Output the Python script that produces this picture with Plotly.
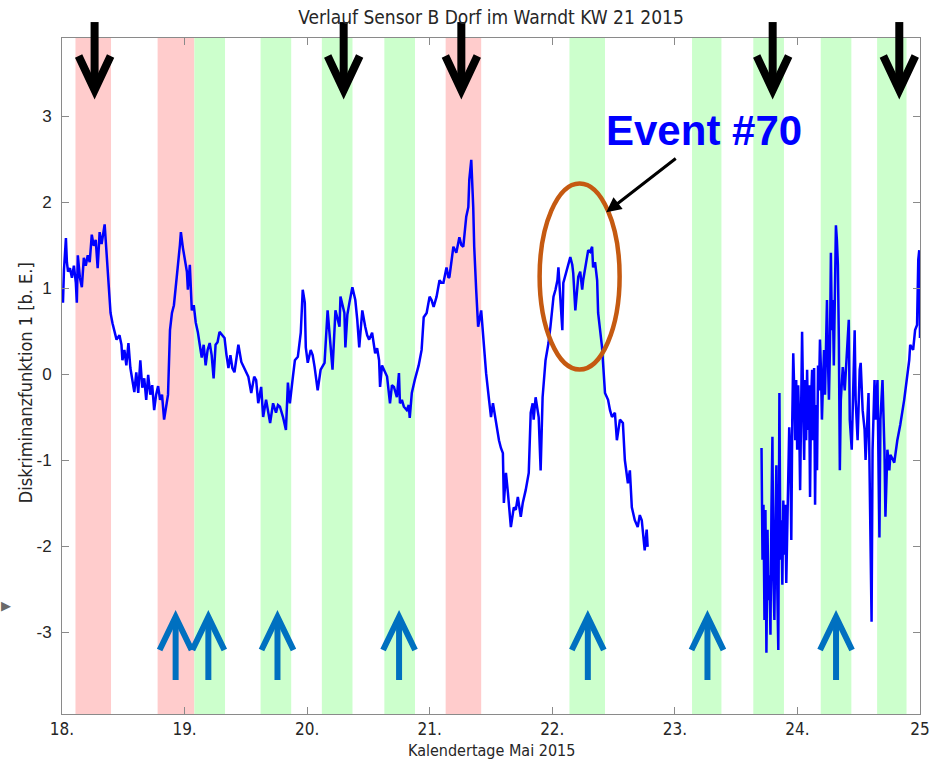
import plotly.graph_objects as go

# ---- sensor series (day of May 2015, discriminant value) ----
seg1_day = [18.000, 18.008, 18.016, 18.032, 18.040, 18.049, 18.065, 18.081, 18.097, 18.113,
            18.121, 18.129, 18.146, 18.162, 18.178, 18.194, 18.210, 18.226, 18.243, 18.259,
            18.275, 18.291, 18.307, 18.323, 18.348, 18.364, 18.380, 18.396, 18.412, 18.428,
            18.445, 18.469, 18.485, 18.493, 18.509, 18.525, 18.542, 18.558, 18.574, 18.590,
            18.606, 18.622, 18.639, 18.655, 18.671, 18.687, 18.703, 18.720, 18.736, 18.752,
            18.768, 18.784, 18.800, 18.816, 18.833, 18.849, 18.865, 18.881, 18.897, 18.913,
            18.930, 18.946, 18.962, 18.970, 18.986, 19.002, 19.019, 19.027, 19.043, 19.059,
            19.075, 19.091, 19.108, 19.124, 19.140, 19.156, 19.172, 19.188, 19.205, 19.221,
            19.237, 19.253, 19.269, 19.285, 19.310, 19.326, 19.342, 19.358, 19.374, 19.390,
            19.407, 19.423, 19.439, 19.463, 19.496, 19.520, 19.544, 19.568, 19.584, 19.601,
            19.625, 19.641, 19.665, 19.681, 19.698, 19.722, 19.746, 19.762, 19.778, 19.803,
            19.827, 19.843, 19.859, 19.884, 19.900, 19.924, 19.948, 19.964, 19.981, 19.989,
            20.005, 20.029, 20.045, 20.061, 20.086, 20.110, 20.142, 20.167, 20.183, 20.207,
            20.231, 20.247, 20.264, 20.272, 20.288, 20.304, 20.312, 20.328, 20.345, 20.369,
            20.393, 20.409, 20.425, 20.450, 20.474, 20.490, 20.506, 20.530, 20.555, 20.571,
            20.587, 20.595, 20.611, 20.627, 20.652, 20.676, 20.692, 20.708, 20.732, 20.749,
            20.757, 20.773, 20.789, 20.813, 20.829, 20.837, 20.854, 20.878, 20.894, 20.910,
            20.934, 20.951, 20.975, 20.999, 21.015, 21.032, 21.056, 21.072, 21.080, 21.096,
            21.112, 21.137, 21.153, 21.161, 21.177, 21.193, 21.217, 21.242, 21.258, 21.274,
            21.298, 21.315, 21.323, 21.339, 21.355, 21.363, 21.379, 21.395, 21.420, 21.436,
            21.460, 21.484, 21.500, 21.516, 21.541, 21.565, 21.581, 21.597, 21.605, 21.622,
            21.638, 21.662, 21.686, 21.702, 21.719, 21.743, 21.759, 21.783, 21.808, 21.824,
            21.840, 21.848, 21.864, 21.889, 21.905, 21.921, 21.945, 21.969, 21.985, 22.010,
            22.026, 22.042, 22.050, 22.066, 22.082, 22.090, 22.107, 22.123, 22.147, 22.163,
            22.171, 22.188, 22.204, 22.212, 22.228, 22.244, 22.252, 22.268, 22.293, 22.309,
            22.325, 22.333, 22.349, 22.366, 22.374, 22.390, 22.406, 22.430, 22.455, 22.471,
            22.487, 22.511, 22.527, 22.552, 22.576, 22.592, 22.617, 22.633, 22.649, 22.673,
            22.697, 22.714, 22.730, 22.754, 22.770, 22.778]
seg1_val = [0.98, 0.83, 1.21, 1.58, 1.30, 1.19, 1.23, 1.12, 1.26, 1.06,
            0.83, 1.38, 1.12, 1.01, 1.35, 1.26, 1.38, 1.30, 1.62, 1.49,
            1.56, 1.23, 1.65, 1.51, 1.74, 1.38, 1.13, 0.71, 0.59, 0.51,
            0.40, 0.45, 0.34, 0.16, 0.28, 0.10, 0.36, 0.07, -0.07, -0.21,
            0.02, -0.22, 0.16, -0.16, -0.05, -0.30, -0.01, -0.24, -0.13, -0.42,
            -0.24, -0.14, -0.30, -0.24, -0.53, -0.36, -0.24, 0.51, 0.71, 0.80,
            1.01, 1.27, 1.50, 1.65, 1.47, 1.35, 1.19, 0.98, 1.27, 0.74,
            0.80, 0.60, 0.49, 0.34, 0.19, 0.34, 0.10, 0.28, 0.36, 0.22,
            -0.05, 0.34, 0.37, 0.49, 0.44, 0.42, 0.22, 0.07, 0.22, 0.07,
            0.02, 0.19, 0.34, 0.14, 0.05, -0.03, -0.22, -0.03, -0.07, -0.34,
            -0.15, -0.50, -0.30, -0.42, -0.57, -0.34, -0.45, -0.36, -0.38, -0.50,
            -0.65, -0.10, -0.34, -0.03, 0.16, 0.20, 0.48, 0.98, 0.83, 0.31,
            0.13, 0.28, 0.22, 0.08, -0.19, 0.05, 0.13, 0.74, 0.43, 0.05,
            0.74, 0.63, 0.55, 0.90, 0.80, 0.71, 0.31, 0.69, 0.83, 1.01,
            0.86, 0.63, 0.31, 0.74, 0.55, 0.45, 0.40, 0.48, 0.24, 0.30,
            0.16, -0.15, 0.10, 0.05, -0.03, -0.34, -0.13, -0.15, -0.27, 0.01,
            -0.34, -0.30, -0.38, -0.42, -0.36, -0.51, -0.22, -0.07, 0.02, 0.10,
            0.28, 0.66, 0.71, 0.90, 0.86, 0.78, 0.90, 1.07, 1.09, 1.06,
            1.06, 1.24, 1.12, 1.13, 1.30, 1.48, 1.41, 1.59, 1.50, 1.48,
            1.83, 1.94, 2.26, 2.49, 1.94, 1.48, 0.98, 0.55, 0.74, 0.40,
            0.01, -0.30, -0.50, -0.34, -0.57, -0.77, -0.86, -0.92, -1.50, -1.15,
            -1.38, -1.78, -1.55, -1.58, -1.43, -1.66, -1.50, -1.35, -1.15, -0.45,
            -0.34, -0.53, -0.27, -0.50, -1.12, -0.27, 0.16, 0.36, 0.55, 0.90,
            0.98, 1.09, 1.24, 0.86, 0.51, 1.06, 1.15, 1.24, 1.36, 1.27,
            1.17, 0.74, 1.03, 1.13, 1.19, 0.98, 1.09, 1.24, 1.44, 1.42,
            1.48, 1.24, 1.30, 1.09, 0.71, 0.51, 0.31, -0.22, -0.30, -0.42,
            -0.50, -0.45, -0.77, -0.53, -0.57, -1.00, -1.27, -1.12, -1.55, -1.70,
            -1.78, -1.64, -1.70, -2.05, -1.81, -2.01]

seg2_day = [23.707, 23.715, 23.723, 23.731, 23.739, 23.747, 23.756, 23.764, 23.772, 23.780,
            23.788, 23.796, 23.804, 23.812, 23.820, 23.828, 23.836, 23.844, 23.853, 23.861,
            23.869, 23.877, 23.885, 23.893, 23.901, 23.909, 23.917, 23.925, 23.933, 23.942,
            23.950, 23.958, 23.966, 23.974, 23.982, 23.990, 23.998, 24.006, 24.014, 24.022,
            24.030, 24.038, 24.047, 24.055, 24.063, 24.071, 24.079, 24.087, 24.095, 24.103,
            24.111, 24.120, 24.128, 24.136, 24.144, 24.152, 24.160, 24.168, 24.176, 24.184,
            24.192, 24.200, 24.208, 24.217, 24.225, 24.233, 24.241, 24.249, 24.257, 24.265,
            24.273, 24.281, 24.289, 24.297, 24.305, 24.314, 24.322, 24.330, 24.338, 24.346,
            24.354, 24.370, 24.386, 24.394, 24.419, 24.427, 24.443, 24.467, 24.475, 24.491,
            24.508, 24.516, 24.532, 24.548, 24.556, 24.580, 24.588, 24.605, 24.613, 24.629,
            24.637, 24.653, 24.669, 24.677, 24.694, 24.710, 24.718, 24.734, 24.750, 24.758,
            24.774, 24.790, 24.815, 24.839, 24.871, 24.895, 24.912, 24.920, 24.944, 24.960,
            24.976, 24.986, 24.994, 25.000]
seg2_val = [-0.86, -2.16, -1.52, -2.86, -1.58, -3.24, -1.81, -2.63, -2.34, -3.03,
            -1.58, -0.73, -2.40, -2.86, -1.81, -1.06, -2.51, -3.21, -0.22, -2.16,
            -1.70, -2.45, -1.47, -2.10, -1.52, -2.43, -1.81, -1.23, -0.62, -0.88,
            -1.93, -0.53, 0.24, -0.19, -0.77, -0.07, -0.88, -0.13, -0.53, -1.35,
            -0.30, 0.49, -0.36, -1.00, -0.07, -0.77, 0.05, -0.65, -0.13, -1.43,
            -0.30, 0.05, -0.77, 0.07, -1.52, -0.36, -1.12, 0.10, -0.19, 0.40,
            0.05, -0.53, -0.13, 0.28, -0.24, 0.57, 0.86, 0.16, -0.30, 0.28,
            1.41, 0.51, 0.86, 0.10, 0.74, 1.73, 1.56, 1.27, 0.40, -1.12,
            -0.30, 0.08, -0.19, 0.05, 0.63, -0.53, -0.88, 0.51, -0.30, -0.77,
            0.05, 0.13, -0.42, -0.65, -1.00, -0.22, -1.23, -2.88, -0.88, -0.07,
            -0.53, -0.07, -1.90, -0.53, -0.07, -0.88, -1.66, -0.88, -1.12, -0.94,
            -0.98, -1.03, -0.77, -0.59, -0.30, -0.01, 0.16, 0.34, 0.28, 0.51,
            0.57, 1.33, 1.44, 0.42]

# ---- marked periods (start, end) in days ----
red_bands = [(18.11, 18.40), (18.78, 19.08), (21.13, 21.42)]
green_bands = [(19.08, 19.33), (19.62, 19.87), (20.12, 20.37), (20.63, 20.88),
               (22.14, 22.43), (23.14, 23.38), (23.64, 23.89), (24.19, 24.44),
               (24.65, 24.89)]

# ---- event markers ----
down_arrows = [18.266, 20.298, 21.258, 23.798, 24.831]
up_arrows = [18.927, 19.194, 19.758, 20.750, 22.290, 23.266, 24.315]

x_ticks = [18, 19, 20, 21, 22, 23, 24, 25]
x_tick_text = ["18.", "19.", "20.", "21.", "22.", "23.", "24.", "25"]
y_ticks = [-3, -2, -1, 0, 1, 2, 3]
y_tick_text = ["-3", "-2", "-1", "0", "1", "2", "3"]

event_label = "Event #70"
event_center = (22.223, 1.134)
event_text_pos = (23.24, 2.83)
event_arrow_tip = (22.44, 1.88)

NARROW = "Liberation Sans Narrow, Arial Narrow, DejaVu Sans Condensed, sans-serif"
SANS = "Liberation Sans, Arial, sans-serif"

fig = go.Figure()

fig.add_trace(go.Scatter(
    x=seg1_day + [None] + seg2_day,
    y=seg1_val + [None] + seg2_val,
    mode="lines",
    line=dict(color="#0000FF", width=2.5),
    connectgaps=False,
    hoverinfo="skip",
    showlegend=False,
))

shapes = []
for (a, b) in red_bands:
    shapes.append(dict(type="rect", xref="x", yref="paper", x0=a, x1=b, y0=0, y1=1,
                       fillcolor="#FFCCCC", line=dict(width=0), layer="below"))
for (a, b) in green_bands:
    shapes.append(dict(type="rect", xref="x", yref="paper", x0=a, x1=b, y0=0, y1=1,
                       fillcolor="#CCFFCC", line=dict(width=0), layer="below"))

# black downward arrows above the series
for d in down_arrows:
    for p in ["M0,4 L0,68", "M-16,34 L0,0 L16,34"]:
        shapes.append(dict(type="path", xref="x", yref="paper",
                           xsizemode="pixel", ysizemode="pixel",
                           xanchor=d, yanchor=0.923, path=p,
                           line=dict(color="black", width=8)))

# blue upward arrows near the bottom
for d in up_arrows:
    for p in ["M0,-4 L0,-63", "M-16,-33 L0,0 L16,-33"]:
        shapes.append(dict(type="path", xref="x", yref="paper",
                           xsizemode="pixel", ysizemode="pixel",
                           xanchor=d, yanchor=0.1435, path=p,
                           line=dict(color="#0070C0", width=6)))

# ellipse around the event
shapes.append(dict(type="circle", xref="x", yref="y",
                   xsizemode="pixel", ysizemode="pixel",
                   xanchor=event_center[0], yanchor=event_center[1],
                   x0=-40, x1=40, y0=-93, y1=93,
                   line=dict(color="#C55A11", width=4.5)))

annotations = [
    dict(text="<b>" + event_label + "</b>", x=event_text_pos[0], y=event_text_pos[1],
         xref="x", yref="y", showarrow=False,
         font=dict(family=SANS, size=42, color="#0000FF"),
         xanchor="center", yanchor="middle"),
    dict(text="", x=event_arrow_tip[0], y=event_arrow_tip[1], xref="x", yref="y",
         showarrow=True, ax=71, ay=-55, arrowhead=2, arrowsize=1, arrowwidth=3,
         arrowcolor="black"),
    dict(text="Kalendertage Mai 2015", x=0.5, y=-0.0547, xref="paper", yref="paper",
         showarrow=False, font=dict(family=NARROW, size=16, color="#262626"),
         xanchor="center", yanchor="middle"),
    dict(text="Diskriminanzfunktion 1 [b. E.]", x=-0.0426, y=0.49, xref="paper",
         yref="paper", textangle=-90, showarrow=False,
         font=dict(family=NARROW, size=18, color="#262626"),
         xanchor="center", yanchor="middle"),
    dict(text="\u25B6", x=-0.0657, y=0.161, xref="paper", yref="paper", showarrow=False,
         font=dict(family=SANS, size=13, color="#6a6a6a"), xanchor="center",
         yanchor="middle"),
]

fig.update_layout(
    width=940, height=760,
    margin=dict(l=62, r=10, t=38, b=46),
    paper_bgcolor="white", plot_bgcolor="white",
    title=dict(text="Verlauf Sensor B Dorf im Warndt KW 21 2015",
               x=0.5, xref="paper", xanchor="center",
               y=1 - 17 / 760, yref="container", yanchor="middle",
               font=dict(family=NARROW, size=19, color="#262626")),
    shapes=shapes,
    annotations=annotations,
    showlegend=False,
)

fig.update_xaxes(range=[18, 25], tickvals=x_ticks, ticktext=x_tick_text,
                 showgrid=False, zeroline=False, showline=True, mirror="ticks",
                 linecolor="#8a8a8a", linewidth=1, ticks="inside", ticklen=7,
                 tickcolor="#8a8a8a", ticklabeloverflow="allow",
                 ticklabelstandoff=0,
                 tickfont=dict(family=NARROW, size=17, color="#262626"))
fig.update_yaxes(range=[-3.953, 3.907], tickvals=y_ticks, ticktext=y_tick_text,
                 showgrid=False, zeroline=False, showline=True, mirror="ticks",
                 linecolor="#8a8a8a", linewidth=1, ticks="inside", ticklen=7,
                 tickcolor="#8a8a8a", ticklabelstandoff=6,
                 tickfont=dict(family=SANS, size=17, color="#262626"))

fig.write_html("out.html")
